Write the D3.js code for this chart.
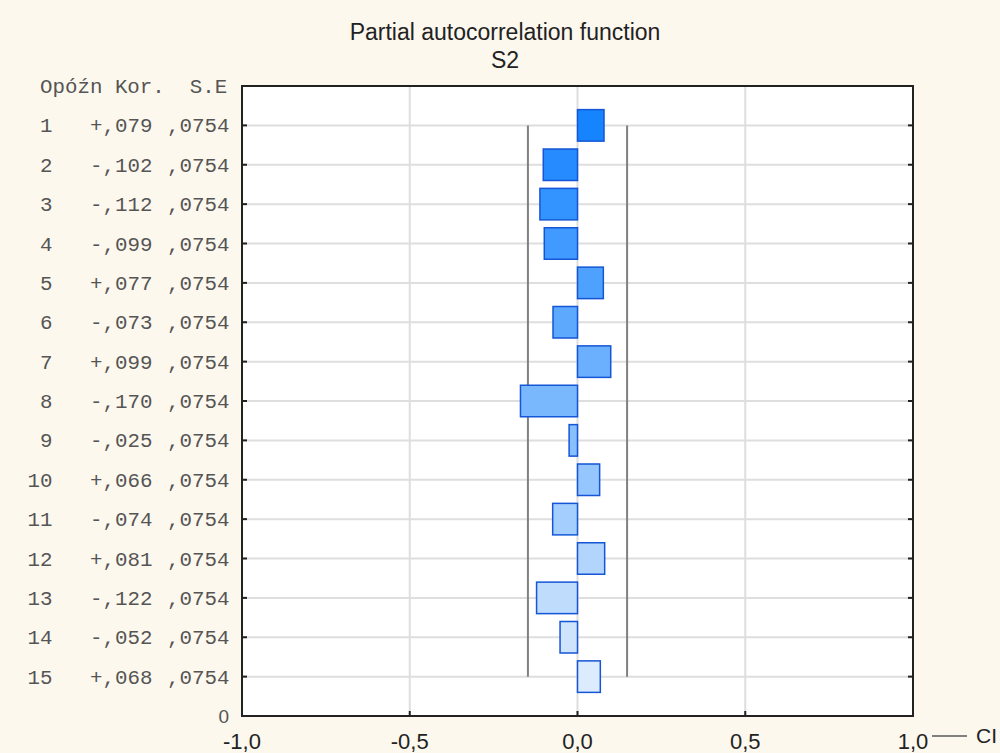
<!DOCTYPE html>
<html><head><meta charset="utf-8">
<script src="https://cdn.jsdelivr.net/npm/d3@7"></script>
<style>body{margin:0;background:#fdf8ee;}svg{display:block;}</style>
</head><body>
<svg id="c" width="1000" height="753"></svg>
<script>
const lags = [1,2,3,4,5,6,7,8,9,10,11,12,13,14,15];
const korLabels = ["+,079","-,102","-,112","-,099","+,077","-,073","+,099","-,170","-,025","+,066","-,074","+,081","-,122","-,052","+,068"];
const kor = [0.079,-0.102,-0.112,-0.099,0.077,-0.073,0.099,-0.170,-0.025,0.066,-0.074,0.081,-0.122,-0.052,0.068];
const seLabels = [",0754",",0754",",0754",",0754",",0754",",0754",",0754",",0754",",0754",",0754",",0754",",0754",",0754",",0754",",0754"];
const se = [0.0754,0.0754,0.0754,0.0754,0.0754,0.0754,0.0754,0.0754,0.0754,0.0754,0.0754,0.0754,0.0754,0.0754,0.0754];
const xTicks = [-1,-0.5,0,0.5,1];
const xTickLabels = ["-1,0","-0,5","0,0","0,5","1,0"];

const svg = d3.select("#c");
const L=242, R=913, T=86, B=716;
const x = d3.scaleLinear().domain([-1,1]).range([L,R]);
const y = d3.scaleLinear().domain([0,16]).range([T,B]);
const color = d3.scaleLinear().domain([1,15]).range(["#1784ff","#dcebfd"]);
const bh = (y(1)-y(0))*0.8;
const sans = "Liberation Sans, Arial, sans-serif";

svg.append("rect").attr("x",L).attr("y",T).attr("width",R-L).attr("height",B-T).attr("fill","#fff");

// grid
svg.append("g").selectAll("line").data(lags).join("line")
  .attr("x1",L).attr("x2",R).attr("y1",d=>y(d)).attr("y2",d=>y(d))
  .attr("stroke","#dedede").attr("stroke-width",2);
svg.append("g").selectAll("line").data([-0.5,0,0.5]).join("line")
  .attr("x1",d=>x(d)).attr("x2",d=>x(d)).attr("y1",T).attr("y2",B)
  .attr("stroke","#dedede").attr("stroke-width",2);

// CI lines
const ci = 1.96*se[0];
[-ci,ci].forEach(v=>{
  svg.append("line").attr("x1",x(v)).attr("x2",x(v))
    .attr("y1",y(lags[0])).attr("y2",y(lags[lags.length-1]))
    .attr("stroke","#808080").attr("stroke-width",2);
});

// bars
svg.append("g").selectAll("rect").data(lags).join("rect")
  .attr("x",(d,i)=>x(Math.min(0,kor[i])))
  .attr("width",(d,i)=>Math.abs(x(kor[i])-x(0)))
  .attr("y",d=>y(d)-bh/2).attr("height",bh)
  .attr("fill",d=>color(d)).attr("stroke","#1456d6").attr("stroke-width",1.5);

// frame
svg.append("rect").attr("x",L).attr("y",T).attr("width",R-L).attr("height",B-T)
  .attr("fill","none").attr("stroke","#222").attr("stroke-width",2);

// y ticks (inside left & right)
svg.append("g").selectAll("line").data(lags).join("line")
  .attr("x1",L).attr("x2",L+5).attr("y1",d=>y(d)).attr("y2",d=>y(d)).attr("stroke","#222").attr("stroke-width",2);
svg.append("g").selectAll("line").data(lags).join("line")
  .attr("x1",R-5).attr("x2",R).attr("y1",d=>y(d)).attr("y2",d=>y(d)).attr("stroke","#222").attr("stroke-width",2);
// x ticks inside bottom
svg.append("g").selectAll("line").data(xTicks).join("line")
  .attr("x1",d=>x(d)).attr("x2",d=>x(d)).attr("y1",B).attr("y2",B-5).attr("stroke","#222").attr("stroke-width",2);

// x tick labels
svg.append("g").selectAll("text").data(xTicks).join("text")
  .attr("x",d=>x(d)).attr("y",749).attr("text-anchor","middle")
  .attr("font-family",sans).attr("font-size",22).attr("fill","#222")
  .text((d,i)=>xTickLabels[i]);

// y zero label
svg.append("text").attr("x",229).attr("y",B+7).attr("text-anchor","end")
  .attr("font-family",sans).attr("font-size",19).attr("fill","#555").text("0");

// table text
const mono = "Liberation Mono, Courier New, monospace";
svg.append("text").attr("x",40).attr("y",y(0)+7).attr("font-family",mono).attr("font-size",20.8).attr("fill","#555")
  .attr("xml:space","preserve").style("white-space","pre").text("Opóźn Kor.  S.E");
const rows = svg.append("g").attr("font-family",mono).attr("font-size",20.8).attr("fill","#555");
rows.selectAll("text.lag").data(lags).join("text").attr("class","lag")
  .attr("x",52.5).attr("y",d=>y(d)+7).attr("text-anchor","end").text(d=>d);
rows.selectAll("text.kor").data(lags).join("text").attr("class","kor")
  .attr("x",90).attr("y",d=>y(d)+7).text((d,i)=>korLabels[i]);
rows.selectAll("text.se").data(lags).join("text").attr("class","se")
  .attr("x",229.5).attr("y",d=>y(d)+7).attr("text-anchor","end").text((d,i)=>seLabels[i]);

// title
svg.append("text").attr("x",505).attr("y",40).attr("text-anchor","middle")
  .attr("font-family",sans).attr("font-size",23).attr("fill","#222")
  .text("Partial autocorrelation function");
svg.append("text").attr("x",505).attr("y",68).attr("text-anchor","middle")
  .attr("font-family",sans).attr("font-size",23).attr("fill","#222")
  .text("S2");

// legend
svg.append("line").attr("x1",932).attr("x2",967).attr("y1",736).attr("y2",736).attr("stroke","#808080").attr("stroke-width",2);
svg.append("text").attr("x",976).attr("y",743).attr("font-family",sans)
  .attr("font-size",21).attr("fill","#222").text("CI");
</script>
</body></html>
